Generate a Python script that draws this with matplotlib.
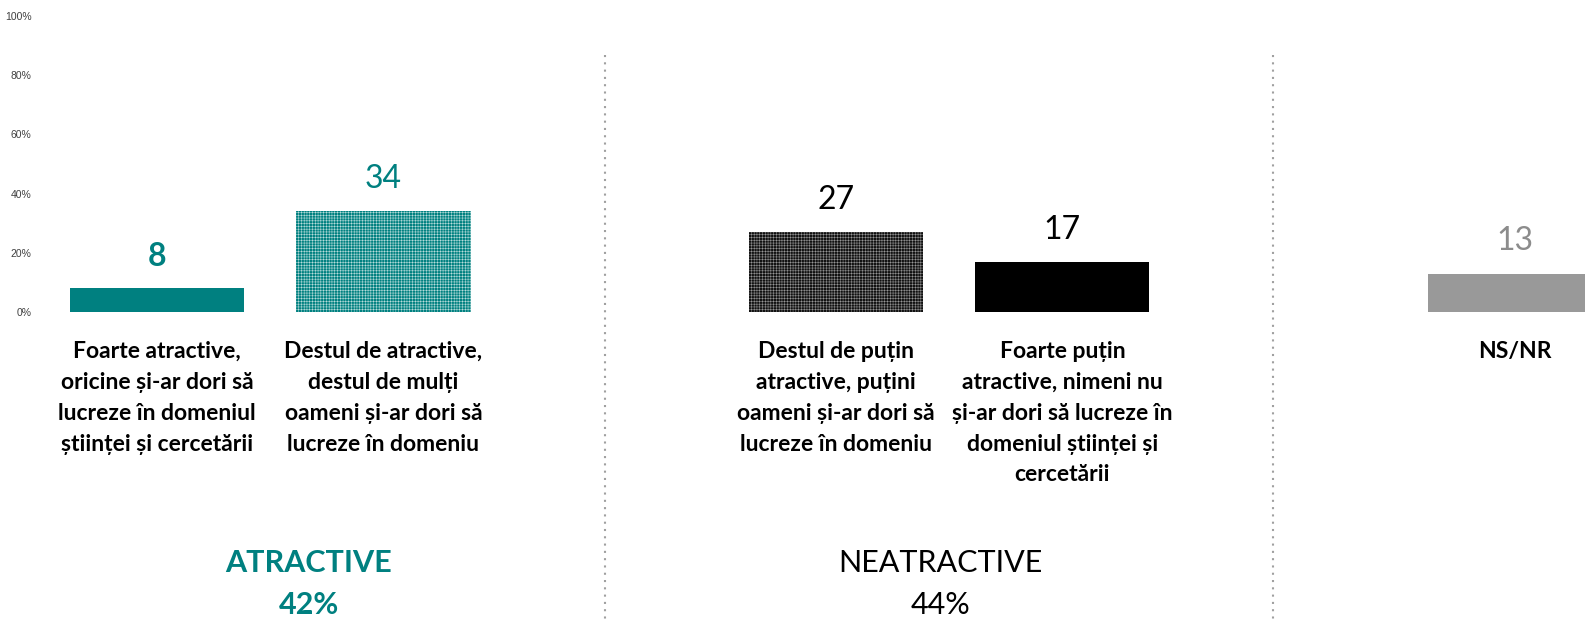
import numpy as np
import matplotlib
matplotlib.use('Agg')
from matplotlib import pyplot as plt
import matplotlib.transforms as mtransforms

plt.rcParams['font.family'] = ['Lato', 'DejaVu Sans']
plt.rcParams['hatch.linewidth'] = 0.35

# data
categories = [
    'Foarte atractive,\noricine și-ar dori să\nlucreze în domeniul\nștiinței și cercetării',
    'Destul de atractive,\ndestul de mulți\noameni și-ar dori să\nlucreze în domeniu',
    'Destul de puțin\natractive, puțini\noameni și-ar dori să\nlucreze în domeniu',
    'Foarte puțin\natractive, nimeni nu\nși-ar dori să lucreze în\ndomeniul științei și\ncercetării',
    'NS/NR',
]
values = [8, 34, 27, 17, 13]
slots = [0, 1, 3, 4, 6]
bar_colors = ['#008080', '#008080', '#111111', '#000000', '#999999']
bar_hatches = [None, '++++++', '++++++', None, None]
hatch_colors = [None, '#bfe0de', '#9a9a9a', None, None]
value_colors = ['#008080', '#008080', '#000000', '#000000', '#8c8c8c']
value_weights = ['bold', 'normal', 'normal', 'normal', 'normal']

group_names = ['ATRACTIVE\n42%', 'NEATRACTIVE\n44%']
group_x = [0.67, 3.46]
group_colors = ['#008080', '#000000']
group_weights = ['bold', 'normal']

divider_x = [1.98, 4.93]
yticks = [0, 20, 40, 60, 80, 100]

W, H = 1585, 621
fig = plt.figure(figsize=(W / 100, H / 100), dpi=100)
ax = fig.add_axes([44 / W, 309 / H, 1541 / W, 296 / H])

for s, v, c, h, hc in zip(slots, values, bar_colors, bar_hatches, hatch_colors):
    if h:
        ax.bar(s, v, width=0.77, color=c, hatch=h, edgecolor=hc, linewidth=0)
    else:
        ax.bar(s, v, width=0.77, color=c, linewidth=0)

for s, v, c, w in zip(slots, values, value_colors, value_weights):
    ax.text(s, v + 5.8, str(v), ha='center', va='bottom', fontsize=23,
            color=c, fontweight=w)

ax.set_xlim(-0.5, -0.5 + 1541 / 226.3)
ax.set_ylim(0, 100)
ax.set_yticks(yticks)
ax.set_yticklabels([f'{t}%' for t in yticks], fontsize=7.5, color='#404040',
                   family='Liberation Sans')
ax.set_xticks([])
ax.tick_params(axis='y', length=0, pad=9)
for sp in ax.spines.values():
    sp.set_visible(False)

tr = mtransforms.blended_transform_factory(ax.transData, fig.transFigure)

for s, lab in zip(slots, categories):
    ax.text(s, 1 - 341 / H, lab, transform=tr, ha='center', va='top',
            ma='center', fontsize=16.5, fontweight='bold', linespacing=1.58,
            clip_on=False)

for gx, name, c, w in zip(group_x, group_names, group_colors, group_weights):
    ax.text(gx, 1 - 584 / H, name, transform=tr, ha='center', va='center',
            ma='center', fontsize=22, color=c, fontweight=w, linespacing=1.62,
            clip_on=False)

for dx in divider_x:
    ax.plot([dx, dx], [1 - 55 / H, 0], transform=tr, color='#a0a0a0',
            linestyle=(0, (1, 2.5)), linewidth=1.5, clip_on=False)

fig.savefig('out.png', dpi=100)
